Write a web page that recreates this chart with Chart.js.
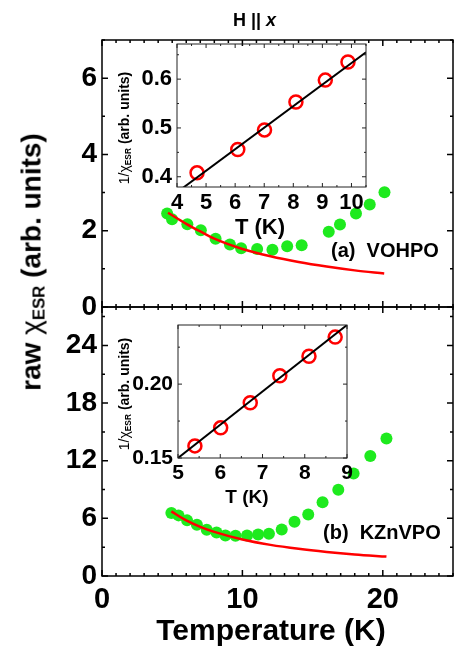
<!DOCTYPE html>
<html>
<head>
<meta charset="utf-8">
<script src="https://cdn.jsdelivr.net/npm/chart.js@4.4.0/dist/chart.umd.min.js"></script>
<style>
  body { margin: 0; background: #fff; }
  #wrap { position: relative; width: 459px; height: 650px; overflow: hidden;
          font-family: 'Liberation Sans', Arial, sans-serif; font-weight: bold; color: #000; }
  canvas { position: absolute; left: 0; top: 0; }
  .txt { position: absolute; white-space: nowrap; line-height: 1; }
  .rot { transform: translate(-50%, -50%) rotate(-90deg); }
  sub { font-size: 60%; vertical-align: -0.25em; }
</style>
</head>
<body>
<div id="wrap">
  <canvas id="mainA" width="459" height="650"></canvas>
  <canvas id="mainB" width="459" height="650"></canvas>
  <canvas id="insetA" width="459" height="650"></canvas>
  <canvas id="insetB" width="459" height="650"></canvas>

  <div class="txt" style="left:233px; top:11px; font-size:18px;">H || <i>x</i></div>
  <div class="txt rot" style="left:33px; top:262px; font-size:28px;">raw <span style="font-weight:normal">&chi;</span><sub style="font-weight:bold">ESR</sub> (arb. units)</div>
  <div class="txt" style="left:271px; top:615px; font-size:30px; transform:translateX(-50%);">Temperature (K)</div>
  <div class="txt" style="left:331px; top:240px; font-size:20px;">(a)&nbsp;&nbsp;VOHPO</div>
  <div class="txt" style="left:323px; top:522px; font-size:20px;">(b)&nbsp;&nbsp;KZnVPO</div>

  <div class="txt" style="left:260px; top:216px; font-size:22px; transform:translateX(-50%);">T (K)</div>
  <div class="txt rot" style="left:125px; top:128px; font-size:14px;"><span style="font-weight:normal">1/&chi;</span><sub>ESR</sub> (arb. units)</div>
  <div class="txt" style="left:247px; top:487px; font-size:19px; transform:translateX(-50%);">T (K)</div>
  <div class="txt rot" style="left:125px; top:394px; font-size:14px;"><span style="font-weight:normal">1/&chi;</span><sub>ESR</sub> (arb. units)</div>
</div>

<script>
// painel (a) VOHPO - chi bruto vs temperatura
const tempA = [4.64, 4.99, 6.08, 7.04, 8.09, 9.11, 9.91, 11.05, 12.14, 13.19, 14.22, 16.15, 16.95, 18.09, 19.07, 20.12];
const chiA = [2.45, 2.30, 2.17, 2.01, 1.79, 1.64, 1.54, 1.52, 1.50, 1.59, 1.62, 1.97, 2.16, 2.45, 2.69, 3.01];
const fitTempA = [4.7, 6, 7, 8, 10, 12, 14, 16, 18, 20.1];
const fitChiA = [2.47, 2.18, 1.98, 1.79, 1.52, 1.33, 1.18, 1.06, 0.96, 0.88];

// painel (b) KZnVPO
const tempB = [4.94, 5.45, 6.06, 6.76, 7.46, 8.16, 8.79, 9.51, 10.33, 11.12, 11.89, 12.80, 13.71, 14.69, 15.71, 16.83, 17.92, 19.11, 20.26];
const chiB = [6.56, 6.31, 5.79, 5.34, 4.82, 4.54, 4.22, 4.19, 4.22, 4.33, 4.40, 4.85, 5.65, 6.39, 7.68, 8.97, 10.68, 12.49, 14.31];
const fitTempB = [4.94, 6, 7, 8, 10, 12, 14, 16, 18, 20.26];
const fitChiB = [6.73, 5.79, 5.12, 4.59, 3.80, 3.24, 2.83, 2.51, 2.25, 2.02];

// insets: 1/chi vs T
const insetTempA = [4.69, 6.09, 7.01, 8.09, 9.10, 9.88];
const invChiA = [0.408, 0.456, 0.496, 0.553, 0.598, 0.635];
const lineTempA = [4.2, 10.5];
const lineInvA = [0.377, 0.655];

const insetTempB = [5.40, 6.01, 6.71, 7.41, 8.10, 8.72];
const invChiB = [0.1582, 0.1704, 0.1874, 0.2056, 0.2188, 0.2318];
const lineTempB = [5.0, 9.0];
const lineInvB = [0.150, 0.240];

// ticks
const xTicksMain = [0, 10, 20];
const yTicksA = [0, 2, 4, 6];
const yTicksB = [0, 6, 12, 18, 24];
const xTicksInsetA = [4, 5, 6, 7, 8, 9, 10];
const yTicksInsetA = [0.4, 0.5, 0.6];
const xTicksInsetB = [5, 6, 7, 8, 9];
const yTicksInsetB = [0.15, 0.20];

const VERDE = '#1eea1e';
const VERMELHO = '#ff0000';
const FONTE = "'Liberation Sans', Arial, sans-serif";

function pares(xs, ys) {
    return xs.map((x, i) => ({ x: x, y: ys[i] }));
}

function fixarTicks(lista) {
    return function (scale) {
        scale.ticks = lista.map(v => ({ value: v }));
    };
}

// moldura com ticks para dentro nos quatro lados (estilo Origin)
const molduraPlugin = {
    id: 'moldura',
    afterDraw(chart, args, opts) {
        const { ctx, chartArea: a } = chart;
        const sx = chart.scales.x, sy = chart.scales.y;
        ctx.save();
        ctx.strokeStyle = opts.cor || '#000';
        ctx.lineWidth = opts.largura || 1;
        ctx.strokeRect(a.left, a.top, a.right - a.left, a.bottom - a.top);

        function marcas(scale, passo, horizontal) {
            const majors = scale.ticks.map(t => t.value);
            const n0 = Math.ceil(scale.min / passo - 1e-6);
            const n1 = Math.floor(scale.max / passo + 1e-6);
            for (let n = n0; n <= n1; n++) {
                const v = n * passo;
                const ehMajor = majors.some(m => Math.abs(m - v) < passo * 0.01);
                const len = ehMajor ? opts.major : opts.minor;
                const p = scale.getPixelForValue(v);
                ctx.beginPath();
                if (horizontal) {
                    ctx.moveTo(p, a.bottom); ctx.lineTo(p, a.bottom - len);
                    ctx.moveTo(p, a.top); ctx.lineTo(p, a.top + len);
                } else {
                    ctx.moveTo(a.left, p); ctx.lineTo(a.left + len, p);
                    ctx.moveTo(a.right, p); ctx.lineTo(a.right - len, p);
                }
                ctx.stroke();
            }
        }
        marcas(sx, opts.passoX, true);
        marcas(sy, opts.passoY, false);
        ctx.restore();
    }
};

function eixoY(min, max, ticks, largura, tamFonte, casas) {
    return {
        type: 'linear', min: min, max: max,
        afterFit: s => { s.width = largura; },
        afterBuildTicks: fixarTicks(ticks),
        grid: { display: false, drawTicks: false },
        border: { display: false },
        ticks: {
            color: '#000', padding: 5,
            font: { family: FONTE, size: tamFonte, weight: 'bold' },
            callback: v => casas == null ? String(v) : v.toFixed(casas)
        }
    };
}

function eixoX(min, max, ticks, altura, tamFonte, pad) {
    return {
        type: 'linear', min: min, max: max,
        afterFit: s => { s.height = altura; },
        afterBuildTicks: fixarTicks(ticks),
        grid: { display: false, drawTicks: false },
        border: { display: false },
        ticks: {
            color: '#000', padding: pad, maxRotation: 0,
            font: { family: FONTE, size: tamFonte, weight: 'bold' },
            callback: v => String(v)
        }
    };
}

const base = {
    responsive: false,
    animation: false,
    events: []
};

// painel (a)
new Chart(document.getElementById('mainA'), {
    type: 'scatter',
    data: {
        datasets: [
            { type: 'line', data: pares(fitTempA, fitChiA), borderColor: VERMELHO, borderWidth: 2.5,
              pointRadius: 0, fill: false, cubicInterpolationMode: 'monotone', order: 0 },
            { data: pares(tempA, chiA), pointRadius: 6, backgroundColor: VERDE, borderWidth: 0, order: 1 }
        ]
    },
    options: {
        ...base,
        layout: { padding: { left: 0, right: 1, top: 40, bottom: 343 } },
        plugins: {
            legend: { display: false }, tooltip: { enabled: false },
            moldura: { largura: 1.5, major: 6, minor: 3, passoX: 1, passoY: 1 }
        },
        scales: {
            x: { type: 'linear', min: 0, max: 25, display: false, afterBuildTicks: fixarTicks(xTicksMain) },
            y: eixoY(0, 7, yTicksA, 102, 28)
        }
    },
    plugins: [molduraPlugin]
});

// painel (b)
new Chart(document.getElementById('mainB'), {
    type: 'scatter',
    data: {
        datasets: [
            { type: 'line', data: pares(fitTempB, fitChiB), borderColor: VERMELHO, borderWidth: 2.5,
              pointRadius: 0, fill: false, cubicInterpolationMode: 'monotone', order: 0 },
            { data: pares(tempB, chiB), pointRadius: 6, backgroundColor: VERDE, borderWidth: 0, order: 1 }
        ]
    },
    options: {
        ...base,
        layout: { padding: { left: 0, right: 1, top: 307, bottom: 0 } },
        plugins: {
            legend: { display: false }, tooltip: { enabled: false },
            moldura: { largura: 1.5, major: 6, minor: 3, passoX: 1, passoY: 3 }
        },
        scales: {
            x: eixoX(0, 25, xTicksMain, 74, 29, 7),
            y: eixoY(0, 28, yTicksB, 102, 28)
        }
    },
    plugins: [molduraPlugin]
});

// inset (a)
new Chart(document.getElementById('insetA'), {
    type: 'scatter',
    data: {
        datasets: [
            { type: 'line', data: pares(lineTempA, lineInvA), borderColor: '#000', borderWidth: 2,
              pointRadius: 0, fill: false, order: 0 },
            { data: pares(insetTempA, invChiA), pointRadius: 6.5, pointBorderWidth: 2.5,
              borderColor: VERMELHO, backgroundColor: 'rgba(0,0,0,0)', order: 1 }
        ]
    },
    options: {
        ...base,
        layout: { padding: { left: 110, right: 93, top: 44, bottom: 433 } },
        plugins: {
            legend: { display: false }, tooltip: { enabled: false },
            moldura: { cor: '#222', largura: 1, major: 4, minor: 2, passoX: 0.5, passoY: 0.05 }
        },
        scales: {
            x: eixoX(4, 10.5, xTicksInsetA, 30, 22, 3),
            y: eixoY(0.379, 0.672, yTicksInsetA, 67, 22, 1)
        }
    },
    plugins: [molduraPlugin]
});

// inset (b)
new Chart(document.getElementById('insetB'), {
    type: 'scatter',
    data: {
        datasets: [
            { type: 'line', data: pares(lineTempB, lineInvB), borderColor: '#000', borderWidth: 2,
              pointRadius: 0, fill: false, order: 0 },
            { data: pares(insetTempB, invChiB), pointRadius: 6.5, pointBorderWidth: 2.5,
              borderColor: VERMELHO, backgroundColor: 'rgba(0,0,0,0)', order: 1 }
        ]
    },
    options: {
        ...base,
        layout: { padding: { left: 110, right: 112, top: 325, bottom: 162 } },
        plugins: {
            legend: { display: false }, tooltip: { enabled: false },
            moldura: { cor: '#222', largura: 1, major: 4, minor: 2, passoX: 0.5, passoY: 0.025 }
        },
        scales: {
            x: eixoX(5, 9, xTicksInsetB, 30, 21, 3),
            y: eixoY(0.15, 0.24, yTicksInsetB, 68, 21, 2)
        }
    },
    plugins: [molduraPlugin]
});
</script>
</body>
</html>
